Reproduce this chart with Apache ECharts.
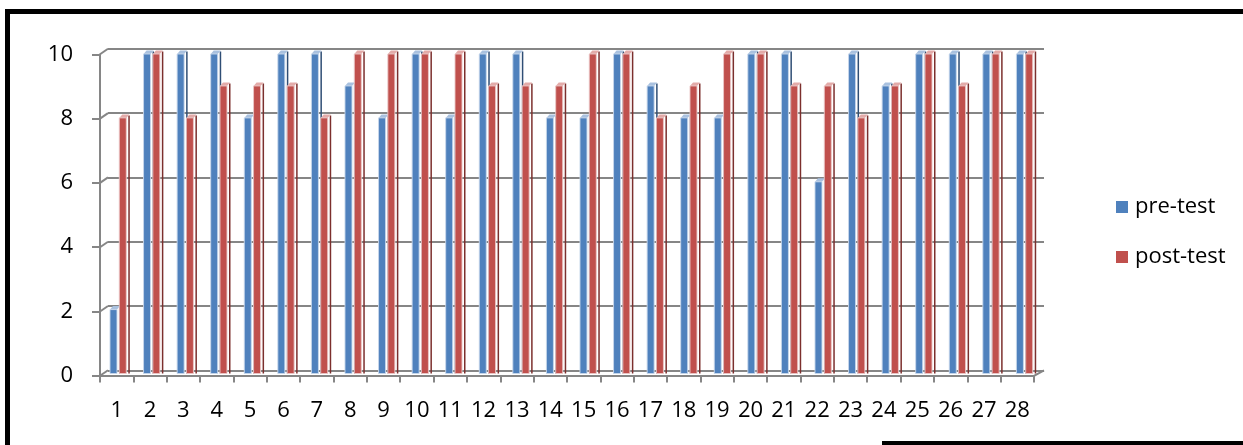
<!DOCTYPE html>
<html>
<head>
<meta charset="utf-8">
<script src="https://cdn.jsdelivr.net/npm/echarts@6/dist/echarts.min.js"></script>
<style>
  html, body { margin: 0; padding: 0; background: #fff; }
  #chart { width: 1243px; height: 445px; }
</style>
</head>
<body>
<div id="chart"></div>
<script>
// Scores per student, out of 10
const students = ['1','2','3','4','5','6','7','8','9','10','11','12','13','14',
                  '15','16','17','18','19','20','21','22','23','24','25','26','27','28'];
const preTest  = [2,10,10,10,8,10,10,9,8,10,8,10,10,8,8,10,9,8,8,10,10,6,10,9,10,10,10,10];
const postTest = [8,10,8,9,9,9,8,10,10,10,10,9,9,9,10,10,8,9,10,10,9,9,8,9,10,9,10,10];
const scoreTicks = [0,2,4,6,8,10];
const seriesNames = ['pre-test','post-test'];

const FONT = 'Open Sans';
const GRID_GRAY = '#868686';

// Palette for the three visible faces of each column
const faces = {
  pre:  { front: '#4F81BD', top: '#A9C1DF', side: '#2F4E75', edge: 'rgba(200,215,235,0.9)' },
  post: { front: '#C0504D', top: '#E3ABA9', side: '#7C2F2D', edge: 'rgba(235,200,200,0.9)' }
};

// Draws a column with a front face, a thin dark side and a light top face
function columnRenderer(pal, offset) {
  const w = 7, depthX = 3, depthY = 3.5, sideGap = 2, sideW = 1.5;
  return function (params, api) {
    const top = api.coord([api.value(0), api.value(1)]);
    const base = api.coord([api.value(0), 0]);
    const x0 = top[0] + offset, x1 = x0 + w;
    const yT = top[1], yB = base[1];
    return {
      type: 'group',
      children: [
        { type: 'rect', shape: { x: x1 + sideGap, y: yT - depthY + 1, width: sideW, height: yB - yT + depthY - 1 },
          style: { fill: pal.side } },
        { type: 'polygon', shape: { points: [[x0, yT], [x0 + depthX, yT - depthY], [x1 + depthX, yT - depthY], [x1, yT]] },
          style: { fill: pal.top } },
        { type: 'rect', shape: { x: x0, y: yT, width: w, height: yB - yT },
          style: { fill: pal.front, stroke: pal.edge, lineWidth: 1 } }
      ]
    };
  };
}

const chart = echarts.init(document.getElementById('chart'), null, { renderer: 'canvas' });

const option = {
  animation: false,
  backgroundColor: '#fff',
  grid: [
    { left: 108, right: 199, top: 48.8, bottom: 74.7 },   // back wall
    { left: 100, right: 209, top: 54.5, bottom: 69.5 },   // front axes
    { left: 101.5, right: 201.5, top: 54, bottom: 71.5 }  // columns
  ],
  xAxis: [
    { gridIndex: 0, type: 'value', min: 0, max: 1, show: false },
    { gridIndex: 1, type: 'category', data: students, boundaryGap: true,
      axisLine: { show: true, lineStyle: { color: GRID_GRAY, width: 2 } },
      axisTick: { show: true, length: 7, alignWithLabel: false, lineStyle: { color: GRID_GRAY, width: 2 } },
      axisLabel: { fontFamily: FONT, fontSize: 22, color: '#000', margin: 24, interval: 0 },
      splitLine: { show: false } },
    { gridIndex: 2, type: 'category', data: students, show: false }
  ],
  yAxis: [
    { gridIndex: 0, type: 'value', min: 0, max: 10, interval: 2,
      axisLine: { show: false }, axisTick: { show: false }, axisLabel: { show: false },
      splitLine: { show: true, lineStyle: { color: GRID_GRAY, width: 2 } } },
    { gridIndex: 1, type: 'value', min: 0, max: 10, interval: 2,
      axisLine: { show: true, lineStyle: { color: GRID_GRAY, width: 2 } },
      axisTick: { show: true, length: 8, lineStyle: { color: GRID_GRAY, width: 2 } },
      axisLabel: { fontFamily: FONT, fontSize: 22, color: '#000', margin: 27 },
      splitLine: { show: false } },
    { gridIndex: 2, type: 'value', min: 0, max: 10, show: false }
  ],
  legend: {
    data: seriesNames,
    orient: 'vertical',
    left: 1111, top: 191,
    icon: 'rect', itemWidth: 12, itemHeight: 12, itemGap: 28,
    textStyle: { fontFamily: FONT, fontSize: 22, color: '#000', padding: [0, 0, 0, 2] }
  },
  series: [
    {
      // side-wall connectors between front ticks and back gridlines
      type: 'custom', xAxisIndex: 0, yAxisIndex: 0, silent: true, z: 1,
      data: scoreTicks.map(v => [0, v]).concat([[1, 0]]),
      renderItem: function (params, api) {
        const p = api.coord([api.value(0), api.value(1)]);
        const dx = api.value(0) === 0 ? -8 : -10;
        return { type: 'line', shape: { x1: p[0], y1: p[1], x2: p[0] + dx, y2: p[1] + 5.5 },
                 style: { stroke: GRID_GRAY, lineWidth: 2 } };
      }
    },
    {
      name: seriesNames[0], type: 'custom', xAxisIndex: 2, yAxisIndex: 2, z: 2,
      itemStyle: { color: faces.pre.front },
      data: preTest.map((v, i) => [i, v]),
      renderItem: columnRenderer(faces.pre, -8.3)
    },
    {
      name: seriesNames[1], type: 'custom', xAxisIndex: 2, yAxisIndex: 2, z: 3,
      itemStyle: { color: faces.post.front },
      data: postTest.map((v, i) => [i, v]),
      renderItem: columnRenderer(faces.post, 1)
    }
  ],
  graphic: [
    // outer frame
    { type: 'rect', shape: { x: 5, y: 9, width: 1238, height: 5 }, style: { fill: '#000' }, z: 100 },
    { type: 'rect', shape: { x: 5, y: 9, width: 5, height: 436 }, style: { fill: '#000' }, z: 100 },
    { type: 'rect', shape: { x: 882, y: 441, width: 361, height: 4 }, style: { fill: '#000' }, z: 100 }
  ]
};

chart.setOption(option);
</script>
</body>
</html>
